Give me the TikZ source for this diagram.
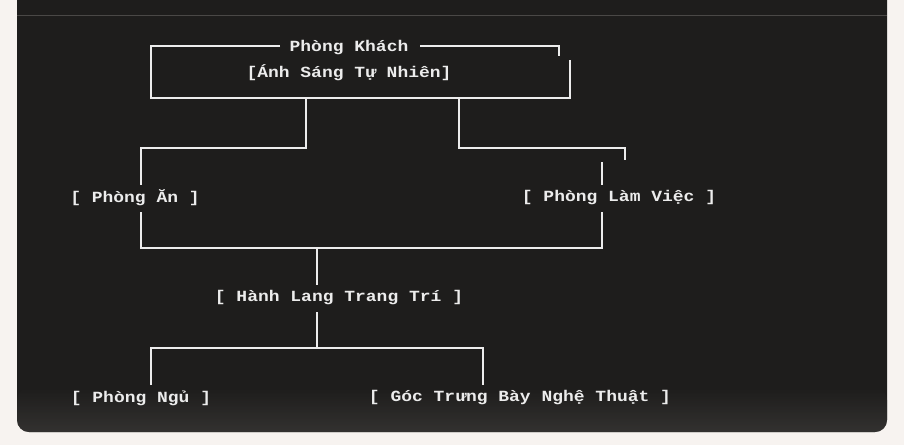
\documentclass[tikz,border=0pt]{standalone}
\usepackage{fontspec}
\setmonofont{Liberation Mono}
\usetikzlibrary{positioning}
\definecolor{pagebg}{HTML}{F7F3F0}
\definecolor{panel}{HTML}{1E1D1C}
\definecolor{rule}{HTML}{4A4846}
\definecolor{ink}{HTML}{ECECEC}
\tikzset{
  room/.style={text=ink, font=\ttfamily\bfseries\fontsize{15.5}{18}\selectfont, inner sep=1pt, xscale=1.16},
  wire/.style={draw=ink, line width=1.3pt}
}
\begin{document}
\begin{tikzpicture}[x=1pt,y=-1pt]
  \useasboundingbox (0,0) rectangle (904,445);
  %page and code panel
  \fill[pagebg] (0,0) rectangle (904,445);
  \fill[panel, rounded corners=12pt] (17,-20) rectangle (887,432);
  \fill[panel] (17,-20) rectangle (887,20);
  \shade[top color=panel, bottom color=rule!80!panel, rounded corners=12pt, opacity=0.6] (17,388) rectangle (887,432);
  \draw[rule, line width=1pt] (17,15) -- (887,15);

  %top box with its title
  \node[room] (title) at (349,48) {Phòng Khách};
  \node[room] (light) at (349,73) {[Ánh Sáng Tự Nhiên]};
  \coordinate (tl) at (151,46);
  \coordinate (tr) at (559,46);
  \coordinate (bl) at (151,98);
  \coordinate (br) at (570,98);
  \draw[wire] (280,46) -- (tl) -- (bl) -- (br) -- (570,60);
  \draw[wire] (420,46) -- (tr) -- (559,56);

  %first split
  \coordinate (sl) at (306,98);
  \coordinate (sr) at (459,98);
  \node[room] (dining) at (135,198) {[ Phòng Ăn ]};
  \node[room] (study) at (619,198) {[ Phòng Làm Việc ]};
  \draw[wire] (sl) -- (306,148) -- (141,148) -- (141,185);
  \draw[wire] (sr) -- (459,148) -- (625,148) -- (625,160);
  \draw[wire] (602,162) -- (602,185);

  %join into the hall
  \node[room] (hall) at (339,298) {[ Hành Lang Trang Trí ]};
  \draw[wire] (141,212) -- (141,248) -- (602,248) -- (602,212);
  \draw[wire] (317,248) -- (317,285);

  %last split
  \node[room] (bed) at (141,398) {[ Phòng Ngủ ]};
  \node[room] (gallery) at (520,398) {[ Góc Trưng Bày Nghệ Thuật ]};
  \draw[wire] (317,312) -- (317,348);
  \draw[wire] (151,385) -- (151,348) -- (483,348) -- (483,385);
\end{tikzpicture}
\end{document}
